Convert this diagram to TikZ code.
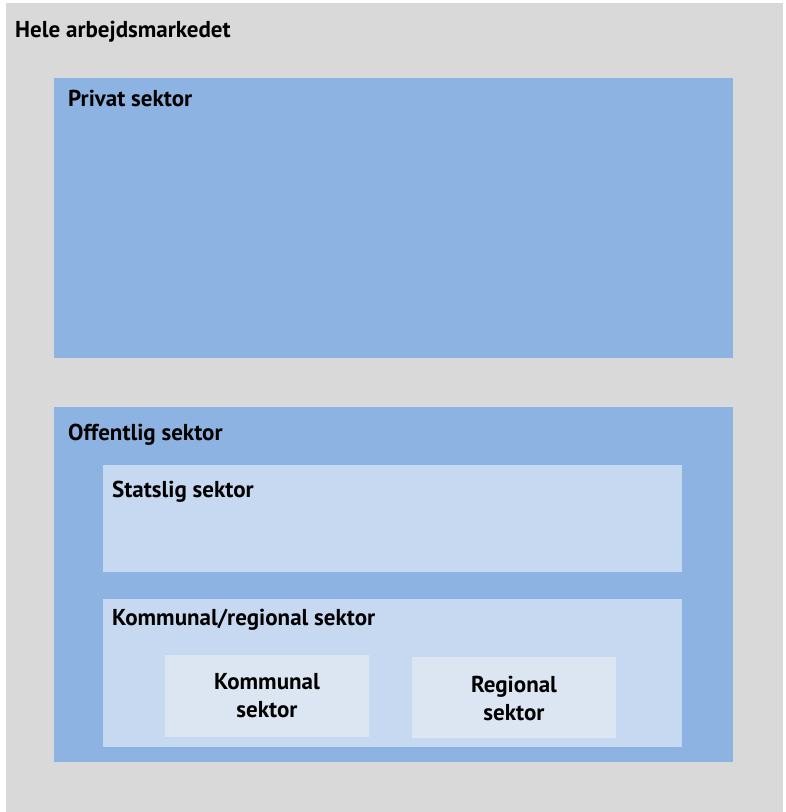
\documentclass[tikz,border=0pt]{standalone}
\usepackage{fontspec}
\setmainfont{PT Sans}
\definecolor{bggray}{HTML}{D9D9D9}
\definecolor{midblue}{HTML}{8DB3E2}
\definecolor{lightblue}{HTML}{C6D9F1}
\definecolor{paleblue}{HTML}{DCE6F2}
\tikzset{
  lbl/.style={anchor=base west, inner sep=0pt, font=\bfseries\fontsize{23}{25}\selectfont},
  clbl/.style={align=center, inner sep=0pt, font=\bfseries\fontsize{23}{28}\selectfont},
  area/.style={inner sep=0pt, outer sep=0pt}
}
\begin{document}
\begin{tikzpicture}[x=1pt,y=-1pt]
\useasboundingbox (0,0) rectangle (786,812);
\fill[white] (0,0) rectangle (786,812);
\fill[bggray] (6,3) rectangle (783,812) coordinate (allbr);
\node[lbl] (hele) at (15,37) {Hele arbejdsmarkedet};
% Privat
\fill[midblue] (54,78) coordinate (privtl) rectangle (733,358);
\node[lbl] (privat) at (68,106) {Privat sektor};
% Offentlig
\fill[midblue] (54,407) coordinate (offtl) rectangle (733,762);
\node[lbl] (off) at (68,440) {Offentlig sektor};
% Statslig
\fill[lightblue] (103,465) rectangle (682,572);
\node[lbl] (stat) at (112,497) {Statslig sektor};
% Kommunal/regional
\fill[lightblue] (103,599) rectangle (682,747);
\node[lbl] (komreg) at (112,625) {Kommunal/regional sektor};
% Kommunal
\fill[paleblue] (165,655) rectangle (369,737);
\node[clbl] (kom) at (267,696) {Kommunal\\sektor};
% Regional
\fill[paleblue] (412,657) rectangle (616,738);
\node[clbl] (reg) at (514,698) {Regional\\sektor};
\end{tikzpicture}
\end{document}
